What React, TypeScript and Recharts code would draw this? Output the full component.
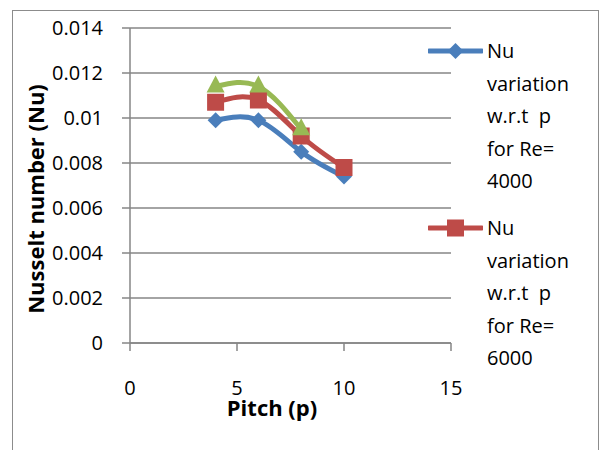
import React from "react";
import {
  LineChart,
  Line,
  XAxis,
  YAxis,
  CartesianGrid,
  Legend,
  Label,
} from "recharts";

// pitch values along the x axis
const pitch = [4, 6, 8, 10];

// Nusselt number for each Reynolds number
const nuRe4000 = [0.0099, 0.0099, 0.0085, 0.0074];
const nuRe6000 = [0.0107, 0.0108, 0.0092, 0.0078];
const nuRe8000 = [0.0114, 0.0114, 0.0095];

const seriesNames = [
  "Nu variation w.r.t  p for Re= 4000",
  "Nu variation w.r.t  p for Re= 6000",
  "Nu variation w.r.t  p for Re= 8000",
];

const xTicks = [0, 5, 10, 15];
const yTicks = [0, 0.002, 0.004, 0.006, 0.008, 0.01, 0.012, 0.014];

const colors = ["#4A7EBB", "#BE4B48", "#98B954"];

const data = pitch.map((p, i) => ({
  p,
  re4000: nuRe4000[i],
  re6000: nuRe6000[i],
  re8000: nuRe8000[i],
}));

const FONT = "'Open Sans', sans-serif";
const gridColor = "#868686";

// marker shapes
const Diamond = (props: any) => {
  const { cx, cy } = props;
  if (cx == null || cy == null) return null;
  const r = 8;
  return (
    <path
      d={`M${cx},${cy - r} L${cx + r},${cy} L${cx},${cy + r} L${cx - r},${cy} Z`}
      fill={colors[0]}
    />
  );
};

const Square = (props: any) => {
  const { cx, cy } = props;
  if (cx == null || cy == null) return null;
  const s = 17;
  return <rect x={cx - s / 2} y={cy - s / 2} width={s} height={s} fill={colors[1]} />;
};

const Triangle = (props: any) => {
  const { cx, cy } = props;
  if (cx == null || cy == null) return null;
  return (
    <path
      d={`M${cx},${cy - 11} L${cx + 9},${cy + 6} L${cx - 9},${cy + 6} Z`}
      fill={colors[2]}
    />
  );
};

const markers = [Diamond, Square, Triangle];

// the original legend box only had room for the first two entries
const LEGEND_VISIBLE = 2;

const LegendContent = (props: any) => {
  const payload = (props.payload || []).slice(0, LEGEND_VISIBLE);
  return (
    <div style={{ fontFamily: FONT, fontSize: 20, color: "#000", textAlign: "left" }}>
      {payload.map((entry: any, i: number) => {
        const Marker = markers[i % 3];
        return (
          <div
            key={entry.value}
            style={{ display: "flex", alignItems: "flex-start", marginBottom: 14.5 }}
          >
            <svg width={55} height={32} style={{ flex: "none" }}>
              <line x1={1} y1={16} x2={54} y2={16} stroke={entry.color} strokeWidth={5} strokeLinecap="round" />
              <Marker cx={27.5} cy={16} />
            </svg>
            <div
              style={{
                marginLeft: 4,
                width: 92,
                lineHeight: "32.5px",
                whiteSpace: "pre-wrap",
              }}
            >
              {entry.value}
            </div>
          </div>
        );
      })}
    </div>
  );
};

const tickStyle = { fill: "#000", fontSize: 20, fontFamily: FONT };

export default function App() {
  return (
    <div
      style={{
        position: "absolute",
        left: 0,
        top: 0,
        width: 600,
        height: 450,
        overflow: "hidden",
        background: "#fff",
      }}
    >
      <LineChart
        width={600}
        height={450}
        data={data}
        margin={{ top: 28, right: 149, bottom: 57, left: 70 }}
      >
        <CartesianGrid vertical={false} stroke={gridColor} strokeWidth={1.5} />
        <XAxis
          type="number"
          dataKey="p"
          domain={[0, 15]}
          ticks={xTicks}
          height={50}
          stroke={gridColor}
          strokeWidth={1.5}
          tickSize={8}
          tickMargin={30}
          tick={tickStyle}
          tickLine={{ stroke: gridColor, strokeWidth: 1.5 }}
        >
          <Label
            content={() => (
              <text
                x={272}
                y={416}
                textAnchor="middle"
                fontFamily={FONT}
                fontWeight="bold"
                fontSize={22}
                fill="#000"
              >
                Pitch (p)
              </text>
            )}
          />
        </XAxis>
        <YAxis
          type="number"
          domain={[0, 0.014]}
          ticks={yTicks}
          width={60}
          stroke={gridColor}
          strokeWidth={1.5}
          tickSize={8}
          tickMargin={19}
          tick={tickStyle}
          tickLine={{ stroke: gridColor, strokeWidth: 1.5 }}
        >
          <Label
            content={() => (
              <text
                x={44}
                y={199}
                transform="rotate(-90 44 199)"
                textAnchor="middle"
                fontFamily={FONT}
                fontWeight="bold"
                fontSize={22}
                fill="#000"
              >
                Nusselt number (Nu)
              </text>
            )}
          />
        </YAxis>
        {/* centered + middle so the legend does not take space from the plot */}
        <Legend
          layout="vertical"
          align="center"
          verticalAlign="middle"
          content={<LegendContent />}
          wrapperStyle={{ left: 428, top: 35, width: 172 }}
        />
        <Line
          type="natural"
          dataKey="re4000"
          name={seriesNames[0]}
          stroke={colors[0]}
          strokeWidth={5}
          dot={(p: any) => <Diamond key={`d0-${p.index}`} {...p} />}
          activeDot={false}
          isAnimationActive={false}
        />
        <Line
          type="natural"
          dataKey="re6000"
          name={seriesNames[1]}
          stroke={colors[1]}
          strokeWidth={5}
          dot={(p: any) => <Square key={`d1-${p.index}`} {...p} />}
          activeDot={false}
          isAnimationActive={false}
        />
        <Line
          type="natural"
          dataKey="re8000"
          name={seriesNames[2]}
          stroke={colors[2]}
          strokeWidth={5}
          dot={(p: any) => <Triangle key={`d2-${p.index}`} {...p} />}
          activeDot={false}
          isAnimationActive={false}
        />
      </LineChart>
      <div
        style={{
          position: "absolute",
          left: 12,
          top: 10,
          width: 585,
          height: 480,
          border: "1.5px solid #8c8c8c",
          pointerEvents: "none",
        }}
      />
    </div>
  );
}
